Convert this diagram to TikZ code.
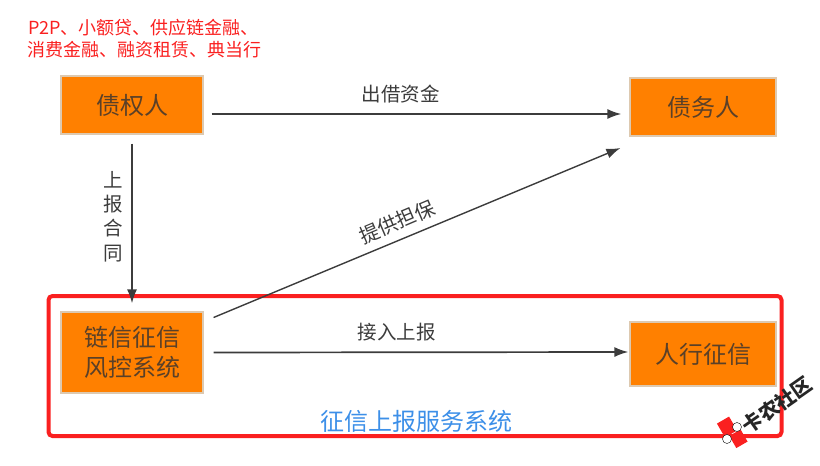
\documentclass[tikz,border=0pt]{standalone}
\usepackage{fontspec}
\setmainfont{Noto Sans CJK SC}
\usetikzlibrary{arrows.meta,calc}
\definecolor{boxorange}{HTML}{FF8000}
\definecolor{boxedge}{HTML}{DDC9B0}
\definecolor{inktext}{HTML}{5A4028}
\definecolor{linegray}{HTML}{3C3C3C}
\definecolor{framered}{HTML}{FA2020}
\definecolor{labelblue}{HTML}{3C8FE8}
\tikzset{
  x=1pt,y=-1pt,
  orangebox/.style={draw=boxedge,line width=1.2pt,fill=boxorange,text=inktext,inner sep=0pt,align=center,font=\fontsize{24}{30}\selectfont},
  conn/.style={draw=linegray,line width=1.7pt,-{Latex[length=14pt,width=10pt]}},
  lbl/.style={text=linegray,inner sep=0pt,font=\fontsize{19.5}{25}\selectfont},
  redlbl/.style={text=framered,inner sep=0pt,align=left,font=\fontsize{18}{22}\selectfont},
}
\begin{document}
\begin{tikzpicture}
\useasboundingbox (0,0) rectangle (820,466);
\node[draw=framered,line width=4pt,rounded corners=4pt,minimum width=733pt,minimum height=140pt,inner sep=0pt] (frame) at (415,366) {};
\node[orangebox,minimum width=142pt,minimum height=58pt] (creditor) at (132,105) {债权人};
\node[orangebox,minimum width=146pt,minimum height=58pt] (debtor) at (703,107) {债务人};
\node[orangebox,minimum width=142pt,minimum height=81pt] (risk) at (132,352.5) {链信征信\\风控系统};
\node[orangebox,minimum width=146pt,minimum height=64pt] (pboc) at (703,354) {人行征信};
\node[redlbl,anchor=west] (types) at (27,39) {\hspace{1pt}P2P、小额贷、供应链金融、\\消费金融、融资租赁、典当行};
\draw[conn] ($(creditor.east)+(8,9)$) -- ($(debtor.west)+(-8,7)$);
\node[lbl] (lend) at (400.5,94) {出借资金};
\draw[conn] ($(creditor.south)+(0,9)$) -- ($(risk.north)+(0,-8)$);
\node[lbl,align=center,font=\fontsize{19.5}{24.3}\selectfont] (report) at (113,216.5) {上\\报\\合\\同};
\draw[conn,line width=1.4pt] ($(risk.east)+(10,-35)$) -- ($(debtor.west)+(-9,41)$);
\node[lbl,rotate=23,font=\fontsize{20}{24}\selectfont] (guarantee) at (397,222) {提供担保};
\draw[conn] ($(risk.east)+(10,0)$) -- ($(pboc.west)+(-1,-2)$);
\node[lbl] (access) at (396.5,332) {接入上报};
\node[text=labelblue,inner sep=0pt,font=\fontsize{24}{28}\selectfont] (system) at (416.5,421) {征信上报服务系统};
% watermark
\fill[framered,rotate around={30:(727,427)}] (720,419) rectangle (734,435);
\fill[framered,rotate around={30:(738,439)}] (732,432) rectangle (745,446);
\filldraw[fill=white,draw=black,line width=0.4pt] (737,427) circle (4.5);
\filldraw[fill=white,draw=black,line width=0.4pt] (727,439) circle (4.5);
\node[text=black!85,inner sep=0pt,rotate=35,font=\fontsize{20}{22}\bfseries\selectfont] (mark) at (777,405) {卡农社区};
\end{tikzpicture}
\end{document}
